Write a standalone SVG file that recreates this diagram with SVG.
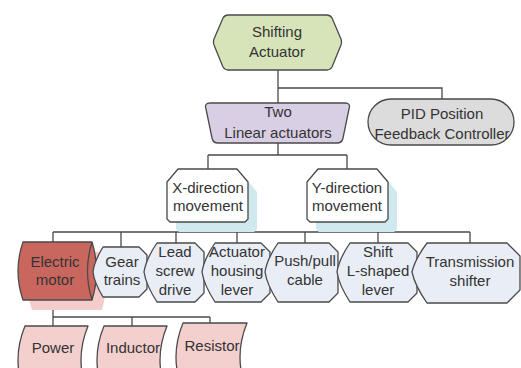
<svg xmlns="http://www.w3.org/2000/svg" width="521" height="368" viewBox="0 0 521 368">
<style>
text{font-family:"Liberation Sans",Arial,sans-serif;font-size:15px;fill:#333;text-anchor:middle}
.s{stroke:#4a4a4a;stroke-width:1.3;stroke-linejoin:round}
.c{fill:none;stroke:#4a4a4a;stroke-width:1.3}
.disp{fill:#e9edf6}
.low{fill:#f3d0ce}
</style>
<rect width="521" height="368" fill="#ffffff"/>
<g id="connectors" class="c">
<path d="M278,70 V103 M278,88 H442 V99"/>
<path d="M278,143 V155 M208,155 H347 M208,155 V169 M347,155 V169"/>
<path d="M208,222 V232 M347,222 V232 M53,232 H470 M53,232 V242 M121,232 V247 M176,232 V243 M237,232 V243 M305,232 V243 M378,232 V243 M470,232 V243"/>
<path d="M53,300 V326 M53,317 H210 M132,317 V326 M210,317 V323"/>
</g>
<g id="shifting-actuator">
<path class="s" fill="#d7e4b9" d="M228,15 L327,15 Q330,15 332,18 L341,39 Q342,42 341,45 L332,67 Q330,70 327,70 L228,70 Q225,70 223,67 L214,45 Q213,42 214,39 L223,18 Q225,15 228,15 Z"/>
<text x="277" y="37">Shifting</text>
<text x="277" y="57">Actuator</text>
</g>
<g id="two-linear-actuators">
<path class="s" fill="#d8cfe5" d="M210,103 L345,103 Q351,103 349,109 L343,138 Q342,143 337,143 L218,143 Q213,143 212,138 L206,109 Q204,103 210,103 Z"/>
<text x="278" y="117">Two</text>
<text x="278" y="138">Linear actuators</text>
</g>
<g id="pid-controller">
<rect class="s" fill="#dcdcdc" x="368" y="99" width="146" height="46" rx="23" ry="23"/>
<text x="442" y="119">PID Position</text>
<text x="442" y="139">Feedback Controller</text>
</g>
<g id="x-direction">
<path fill="#cfe9ef" d="M187,179 L246,179 L257,192 L257,229 L254,232 L179,232 L176,229 L176,192 Z"/>
<path class="s" fill="#ffffff" d="M178,169 L237,169 L248,182 L248,219 L245,222 L170,222 L167,219 L167,182 Z"/>
<text x="208" y="193">X-direction</text>
<text x="208" y="211">movement</text>
</g>
<g id="y-direction">
<path fill="#cfe9ef" d="M327,179 L386,179 L397,192 L397,229 L394,232 L319,232 L316,229 L316,192 Z"/>
<path class="s" fill="#ffffff" d="M318,169 L377,169 L388,182 L388,219 L385,222 L310,222 L307,219 L307,182 Z"/>
<text x="347" y="193">Y-direction</text>
<text x="347" y="211">movement</text>
</g>
<g id="electric-motor">
<path fill="#f4cccb" d="M32,252 L102,252 Q110,281 102,310 L32,310 Q22,281 32,252 Z"/>
<path class="s" fill="#c9675f" d="M23,242 L92,242 Q101,271 92,300 L23,300 Q13,271 23,242 Z"/>
<path class="c" d="M92,242 Q83,271 92,300"/>
<text x="55" y="267">Electric</text>
<text x="55" y="285">motor</text>
</g>
<g id="gear-trains">
<path class="s disp" d="M103,247 L139,247 L147,255 L147,289 L139,297 L103,297 Q94,282 93,272 Q94,262 103,247 Z"/>
<text x="122" y="267">Gear</text>
<text x="122" y="285">trains</text>
</g>
<g id="lead-screw-drive">
<path class="s disp" d="M157,243 L195,243 L204,252 L204,293 L195,302 L157,302 Q146,285 144,272 Q146,259 157,243 Z"/>
<text x="175" y="257">Lead</text>
<text x="175" y="276">screw</text>
<text x="175" y="295">drive</text>
</g>
<g id="actuator-housing-lever">
<path class="s disp" d="M215,243 L261,243 L270,252 L270,293 L261,302 L215,302 Q204,285 202,272 Q204,259 215,243 Z"/>
<text x="237" y="257">Actuator</text>
<text x="237" y="276">housing</text>
<text x="237" y="295">lever</text>
</g>
<g id="push-pull-cable">
<path class="s disp" d="M278,243 L329,243 L338,252 L338,293 L329,302 L278,302 Q267,285 265,272 Q267,259 278,243 Z"/>
<text x="305" y="266">Push/pull</text>
<text x="305" y="285">cable</text>
</g>
<g id="shift-l-shaped-lever">
<path class="s disp" d="M350,243 L408,243 L417,252 L417,293 L408,302 L350,302 Q339,285 337,272 Q339,259 350,243 Z"/>
<text x="378" y="257">Shift</text>
<text x="378" y="276">L-shaped</text>
<text x="378" y="295">lever</text>
</g>
<g id="transmission-shifter">
<path class="s disp" d="M427,243 L507,243 L520,256 L520,290 L507,303 L427,303 Q415,286 412,272 Q415,259 427,243 Z"/>
<text x="470" y="267">Transmission</text>
<text x="470" y="286">shifter</text>
</g>
<g id="power">
<path class="s low" d="M25,326 L88,326 Q74,360 88,394 L25,394 Q11,360 25,326 Z"/>
<text x="53" y="353">Power</text>
</g>
<g id="inductor">
<path class="s low" d="M104,326 L167,326 Q153,360 167,394 L104,394 Q90,360 104,326 Z"/>
<text x="133" y="353">Inductor</text>
</g>
<g id="resistor">
<path class="s low" d="M183,323 L247,323 Q233,357 247,391 L183,391 Q169,357 183,323 Z"/>
<text x="212" y="351">Resistor</text>
</g>
</svg>
